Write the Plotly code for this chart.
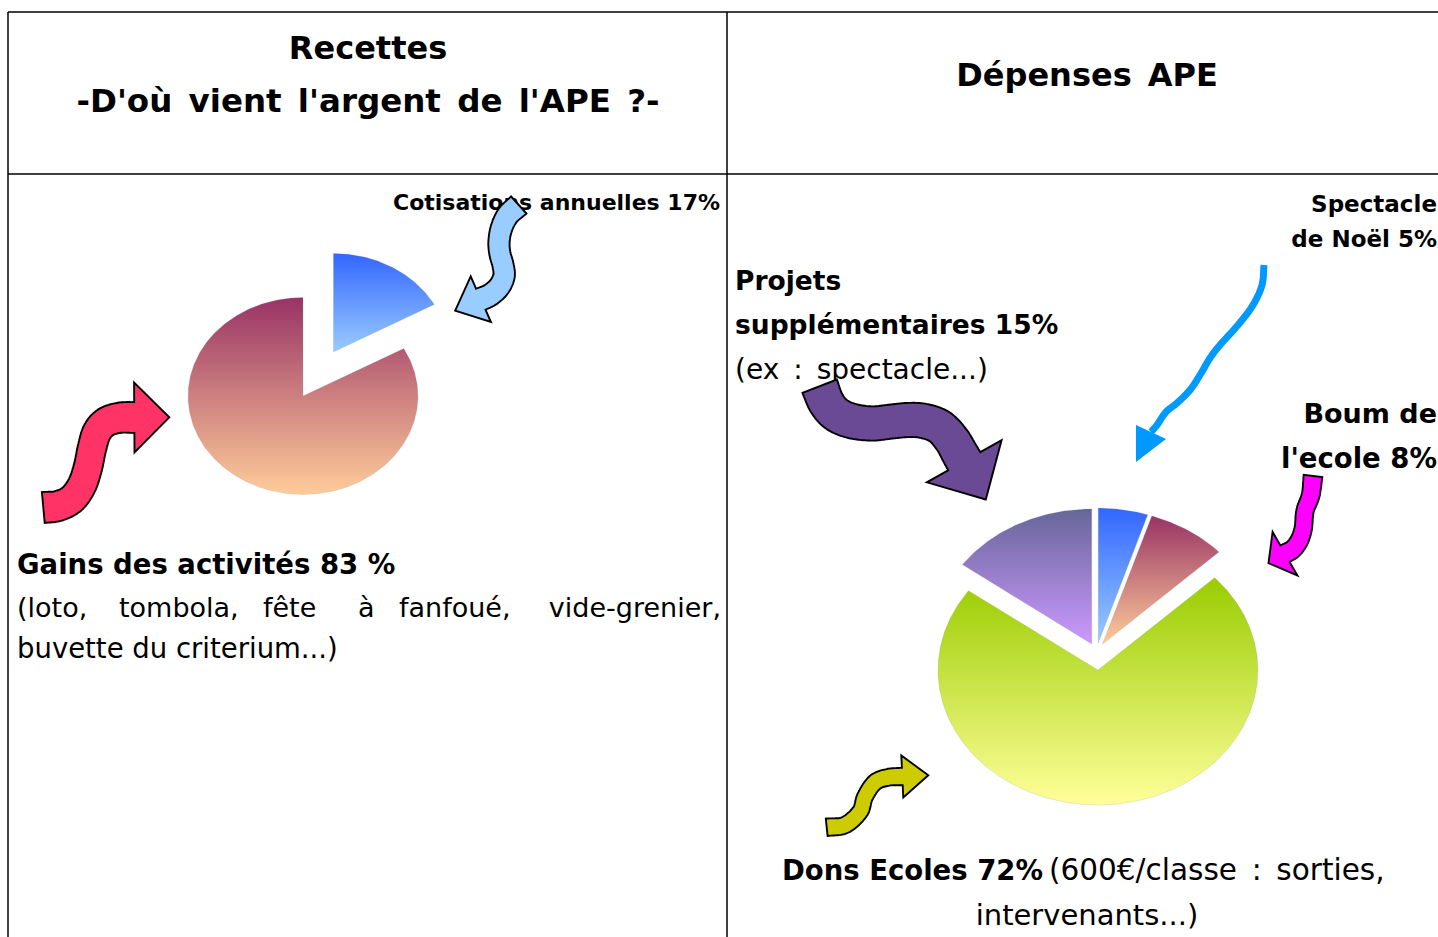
import numpy as np
import plotly.graph_objects as go

W, H = 1438, 937

# ---------------- data ----------------
recettes_labels = ["Cotisations annuelles", "Gains des activités"]
recettes_values = [17, 83]

depenses_labels = ["Spectacle de Noël", "Boum de l'ecole", "Dons Ecoles", "Projets supplémentaires"]
depenses_values = [5, 8, 72, 15]

# ---------------- styles ----------------
# (top colour, bottom colour) of each slice's vertical gradient
recettes_colors = [("#3366ff", "#99ccff"), ("#993366", "#ffcc99")]
recettes_pull = [0.52, 0.0]
depenses_colors = [("#3366ff", "#99ccff"), ("#993366", "#ffcc99"),
                   ("#99cc00", "#ffff99"), ("#666699", "#cc99ff")]
depenses_pull = [0.067, 0.067, 0.134, 0.067]

FONT = "DejaVu Sans"
SP = "\u2002"  # wider space, closer to the original handwriting-style font

fig = go.Figure()


def pie_slices(labels, values, cx, cy, rx, ry, pulls, colors, start=90.0):
    total = float(sum(values))
    a = start
    for lab, v, p, (c_top, c_bot) in zip(labels, values, pulls, colors):
        sweep = 360.0 * v / total
        a0, a1 = a, a - sweep
        mid = np.radians((a0 + a1) / 2)
        ox = p * rx * np.cos(mid)
        oy = -p * ry * np.sin(mid)
        th = np.radians(np.linspace(a0, a1, max(int(sweep * 2), 10)))
        xs = [cx + ox] + list(cx + ox + rx * np.cos(th)) + [cx + ox]
        ys = [cy + oy] + list(cy + oy - ry * np.sin(th)) + [cy + oy]
        fig.add_trace(go.Scatter(
            x=xs, y=ys, mode="lines", fill="toself", name=lab,
            line=dict(color="rgba(150,150,150,0.35)", width=0.6),
            fillgradient=dict(type="vertical", colorscale=[[0, c_bot], [1, c_top]]),
            hoverinfo="skip", showlegend=False))
        a = a1


pie_slices(recettes_labels, recettes_values, 303, 396, 115, 98.5, recettes_pull, recettes_colors)
pie_slices(depenses_labels, depenses_values, 1096.6, 652, 160, 135, depenses_pull, depenses_colors)


def txt(x, y, text, size, bold=False, pos="middle right"):
    fig.add_trace(go.Scatter(
        x=[x], y=[y], mode="text", text=[text], textposition=pos,
        textfont=dict(family=FONT, size=size, color="black",
                      weight="bold" if bold else "normal"),
        hoverinfo="skip", showlegend=False))


# header
txt(368, 51, "Recettes", 32, True, "middle center")
txt(368, 104, SP.join("-D'où vient l'argent de l'APE ?-".split(" ")), 32.5, True, "middle center")
txt(1087, 78, "Dépenses" + SP + "APE", 32, True, "middle center")

# left column texts
txt(720, 204, "Cotisations annuelles 17%", 22, True, "middle left")
txt(17, 567, "Gains des activités 83 %", 27.5, True, "middle right")
words = ["(loto,", "tombola,", "fête", "à", "fanfoué,"]
word_x = [17, 119, 263, 358, 399]
for w_, x_ in zip(words, word_x):
    txt(x_, 610, w_, 27, False, "middle right")
txt(721, 610, "vide-grenier,", 27, False, "middle left")
txt(17, 651, "buvette du criterium...)", 27.5, False, "middle right")

# right column texts
txt(735, 283, "Projets", 26.5, True, "middle right")
txt(735, 327, "supplémentaires 15%", 26.5, True, "middle right")
txt(735, 372, "(ex" + SP + ":" + SP + "spectacle...)", 28, False, "middle right")
txt(1437, 206, "Spectacle", 23, True, "middle left")
txt(1437, 241, "de Noël 5%", 23, True, "middle left")
txt(1437, 416, "Boum de", 27, True, "middle left")
txt(1437, 461, "l'ecole 8%", 27.5, True, "middle left")
txt(1043, 873, "Dons Ecoles 72%", 27.5, True, "middle left")
txt(1049, 873, "(600€/classe" + SP + ":" + SP + "sorties,", 29.5, False, "middle right")
txt(1087, 918, "intervenants...)", 29, False, "middle center")


# ---------------- decorative arrows ----------------
def catmull(pts, n=16):
    pts = np.array(pts, float)
    P = np.vstack([2 * pts[0] - pts[1], pts, 2 * pts[-1] - pts[-2]])
    out = []
    for i in range(1, len(P) - 2):
        p0, p1, p2, p3 = P[i - 1], P[i], P[i + 1], P[i + 2]
        for t in np.linspace(0, 1, n, endpoint=False):
            t2, t3 = t * t, t * t * t
            out.append(0.5 * ((2 * p1) + (-p0 + p2) * t
                              + (2 * p0 - 5 * p1 + 4 * p2 - p3) * t2
                              + (-p0 + 3 * p1 - 3 * p2 + p3) * t3))
    out.append(P[-2])
    return np.array(out)


def to_path(poly, close=True):
    s = "M" + " L".join(f"{x:.1f},{y:.1f}" for x, y in poly)
    return s + (" Z" if close else "")


def arrow_path(pts, hw, hh, hl, mid_ratio=0.92):
    c = catmull(pts)
    d = np.gradient(c, axis=0)
    d /= np.linalg.norm(d, axis=1)[:, None]
    nrm = np.stack([-d[:, 1], d[:, 0]], axis=1)
    seg = np.r_[0, np.cumsum(np.linalg.norm(np.diff(c, axis=0), axis=1))]
    s = seg / seg[-1]
    w = hw * (1 - (1 - mid_ratio) * np.sin(np.pi * s))
    left = c + w[:, None] * nrm
    right = c - w[:, None] * nrm
    end, de, ne = c[-1], d[-1], nrm[-1]
    tip = end + hl * de
    poly = list(left) + [end + hh * ne, tip, end - hh * ne] + list(right[::-1])
    return to_path(poly)


shapes = []
# table grid
for (x0, y0, x1, y1) in [(8, 12, W, 12), (8, 174, W, 174), (8, 12, 8, H), (727, 12, 727, H)]:
    shapes.append(dict(type="line", x0=x0, y0=y0, x1=x1, y1=y1, xref="x", yref="y",
                       line=dict(color="black", width=1.5), layer="above"))

arrows = [
    # (centerline, half width, head half width, head length, fill)
    ([(518.8, 205), (508, 215), (501.5, 228), (499, 242), (500, 254), (503, 265), (504, 276),
      (499, 287), (490, 295), (480.8, 299.2)],
     11.5, 25, 28, "#99ccff"),
    ([(43.3, 507.5), (58, 506), (72, 499), (82, 485), (88, 467), (92, 448), (97, 432),
      (106, 422), (120, 417.7), (134.3, 417.5)],
     15.5, 35, 35, "#ff3366"),
    ([(819.7, 386.2), (826, 402), (836, 414), (852, 421), (872, 423.5), (890, 421.7), (908, 420),
      (924, 421), (940, 427), (952, 440), (959, 452), (964.2, 461.2)],
     18.5, 43, 44, "#6a4a94"),
    ([(1313, 476), (1310.7, 495), (1305, 511), (1303.3, 528), (1299.5, 540), (1293, 549),
      (1285, 553.7)],
     9.4, 25, 19, "#ff00ff"),
    ([(826.7, 827.3), (845, 825), (860, 811.7), (865, 796.7), (875, 782.3), (888.3, 777.3),
      (902.3, 776.5)],
     8.7, 21, 26, "#cccc00"),
]
for pts, hw, hh, hl, col in arrows:
    shapes.append(dict(type="path", path=arrow_path(pts, hw, hh, hl), xref="x", yref="y",
                       fillcolor=col, line=dict(color="black", width=1.9), layer="above"))

# thin blue line arrow (Spectacle de Noël)
blue_line = [(1264, 265), (1262, 285), (1253, 305), (1238, 325), (1220, 345), (1210, 358),
             (1200, 375), (1190, 390), (1177, 403), (1166, 412), (1157, 425), (1151, 432)]
shapes.append(dict(type="path", path=to_path(catmull(blue_line), close=False), xref="x", yref="y",
                   fillcolor="rgba(0,0,0,0)", line=dict(color="#0099ff", width=7), layer="above"))
shapes.append(dict(type="path", path=to_path([(1136, 425), (1166, 439), (1136, 462)]),
                   xref="x", yref="y", fillcolor="#0099ff", line=dict(width=0), layer="above"))

fig.update_layout(
    width=W, height=H, margin=dict(l=0, r=0, t=0, b=0),
    paper_bgcolor="white", plot_bgcolor="white",
    xaxis=dict(range=[0, W], visible=False, fixedrange=True),
    yaxis=dict(range=[H, 0], visible=False, fixedrange=True),
    shapes=shapes, showlegend=False,
)

fig.write_html("out.html", config={"displayModeBar": False},
               post_script="document.body.style.margin='0';document.body.style.overflow='hidden';")
